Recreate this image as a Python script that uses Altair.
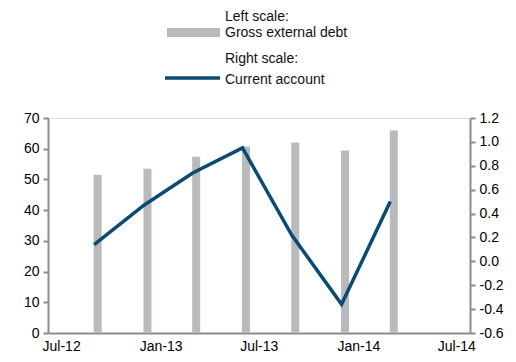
import altair as alt
import pandas as pd

dates = ["2012-09-15", "2012-12-16", "2013-03-16", "2013-06-16",
         "2013-09-15", "2013-12-16", "2014-03-16"]
gross_external_debt = [51.5, 53.5, 57.4, 60.7, 62.0, 59.4, 65.9]
current_account = [0.14, 0.47, 0.74, 0.95, 0.22, -0.36, 0.50]

df = pd.DataFrame({"date": dates, "debt": gross_external_debt, "ca": current_account})
one = pd.DataFrame({"k": [0]})

FONT = "Liberation Sans"
GREY = "#b9babd"
BLUE = "#0b4a72"
AXIS = "#8c8c8c"
FS = 14

xscale = alt.Scale(domain=[alt.DateTime(year=2012, month=7, date=1),
                           alt.DateTime(year=2014, month=8, date=1)])
xaxis = alt.Axis(
    values=[alt.DateTime(year=2012, month=7, date=16),
            alt.DateTime(year=2013, month=1, date=16),
            alt.DateTime(year=2013, month=7, date=16),
            alt.DateTime(year=2014, month=1, date=16),
            alt.DateTime(year=2014, month=7, date=16)],
    format="%b-%y", title=None, grid=False, ticks=False,
    domainColor=AXIS, domainWidth=2, labelPadding=6,
    labelFont=FONT, labelFontSize=FS, labelColor="#000000",
)

bars = alt.Chart(df).mark_bar(color=GREY, size=8, xOffset=3.5).encode(
    x=alt.X("date:T", scale=xscale, axis=xaxis),
    y=alt.Y("debt:Q", scale=alt.Scale(domain=[0, 70], nice=False),
            axis=alt.Axis(orient="left", values=list(range(0, 71, 10)), title=None,
                          grid=False, domainColor=AXIS, domainWidth=2,
                          tickColor=AXIS, tickWidth=2, tickSize=5, labelPadding=4,
                          labelFont=FONT, labelFontSize=FS, labelColor="#000000")),
)

line = alt.Chart(df).mark_line(color=BLUE, strokeWidth=3.5, strokeJoin="miter").encode(
    x=alt.X("date:T", scale=xscale),
    y=alt.Y("ca:Q", scale=alt.Scale(domain=[-0.6, 1.2], nice=False),
            axis=alt.Axis(orient="right", values=[-0.6, -0.4, -0.2, 0.0, 0.2, 0.4, 0.6, 0.8, 1.0, 1.2],
                          format=".1f", labelExpr="replace(datum.label, '\u2212', '-')",
                          title=None, grid=False, domainColor=AXIS, domainWidth=2,
                          tickColor=AXIS, tickWidth=2, tickSize=5, labelPadding=4,
                          labelFont=FONT, labelFontSize=FS, labelColor="#000000")),
)

def txt(label, y):
    return alt.Chart(one).mark_text(align="left", baseline="alphabetic", font=FONT,
                                    fontSize=FS, color="#111111").encode(
        x=alt.value(177), y=alt.value(y), text=alt.value(label))

swatch_bar = alt.Chart(one).mark_rect(color=GREY).encode(
    x=alt.value(119), x2=alt.value(172), y=alt.value(-90), y2=alt.value(-81))
swatch_line = alt.Chart(one).mark_rule(color=BLUE, strokeWidth=3.5).encode(
    x=alt.value(117), x2=alt.value(172), y=alt.value(-40))

chart = alt.layer(
    bars, line,
    txt("Left scale:", -97.5), swatch_bar, txt("Gross external debt", -81.5),
    txt("Right scale:", -54.7), swatch_line, txt("Current account", -34),
).resolve_scale(y="independent").properties(
    width=422, height=215,
    autosize=alt.AutoSizeParams(type="none"),
    padding={"left": 40, "top": 110, "right": 38, "bottom": 21},
).configure_view(stroke=None).configure(background="white")

chart.save("out.html", embed_options={"renderer": "svg", "actions": False})
